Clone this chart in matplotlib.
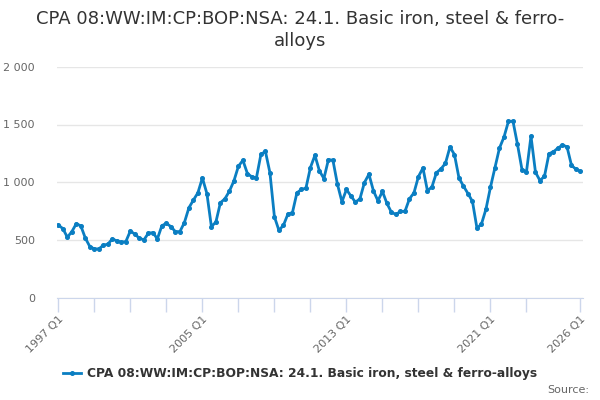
import numpy as np
import matplotlib
matplotlib.use("Agg")
import matplotlib.pyplot as plt
from matplotlib.ticker import FuncFormatter

# quarterly values, 1997 Q1 .. 2026 Q1
values = [629, 598, 523, 572, 641, 621, 515, 442, 422, 422, 454, 463,
          509, 491, 480, 486, 578, 549, 515, 500, 558, 563, 509, 623,
          644, 615, 572, 572, 650, 778, 845, 908, 1037, 902, 615, 655,
          822, 856, 922, 1011, 1138, 1190, 1075, 1046, 1037, 1241, 1267, 1083,
          701, 583, 626, 724, 736, 908, 937, 948, 1127, 1233, 1098, 1032,
          1196, 1190, 983, 830, 937, 880, 827, 856, 997, 1069, 925, 839,
          920, 816, 739, 721, 747, 747, 856, 908, 1049, 1123, 925, 960,
          1083, 1115, 1164, 1305, 1239, 1037, 966, 902, 833, 601, 638, 767,
          957, 1127, 1296, 1391, 1528, 1528, 1328, 1109, 1092, 1399, 1086, 1014,
          1052, 1247, 1264, 1296, 1322, 1307, 1146, 1112, 1095]
quarters = ['{} Q{}'.format(y, q) for y in range(1997, 2027) for q in range(1, 5)][:len(values)]
tick_quarters = ['1997 Q1', '1999 Q1', '2001 Q1', '2003 Q1', '2005 Q1', '2007 Q1',
                 '2009 Q1', '2011 Q1', '2013 Q1', '2015 Q1', '2017 Q1', '2019 Q1',
                 '2021 Q1', '2023 Q1', '2026 Q1']
label_quarters = ['1997 Q1', '2005 Q1', '2013 Q1', '2021 Q1', '2026 Q1']
series_name = 'CPA 08:WW:IM:CP:BOP:NSA: 24.1. Basic iron, steel & ferro-alloys'

blue = '#0a7ec2'
grey = '#666666'

fig = plt.figure(figsize=(6, 4), dpi=100)
ax = fig.add_axes([0.095, 0.256, 0.877, 0.577])

x = np.arange(len(values))
line, = ax.plot(x, values, color=blue, lw=2, marker='o', ms=2.6, zorder=3)

ax.set_xlim(-0.3, 116.6)
ax.set_ylim(0, 2000)
ax.set_yticks([0, 500, 1000, 1500, 2000])
ax.yaxis.set_major_formatter(FuncFormatter(lambda v, p: '{:,.0f}'.format(v).replace(',', ' ')))
ax.grid(axis='y', color='#e6e6e6', lw=1)
ax.set_axisbelow(True)

tpos = [quarters.index(q) for q in tick_quarters]
ax.set_xticks(tpos)
ax.set_xticklabels([q if q in label_quarters else '' for q in tick_quarters],
                   rotation=45, ha='right', rotation_mode='anchor')

for s in ['top', 'right', 'left']:
    ax.spines[s].set_visible(False)
ax.spines['bottom'].set_color('#ccd6eb')
ax.tick_params(axis='x', colors='#ccd6eb', length=10, width=1, labelcolor=grey,
               labelsize=8, pad=2)
ax.tick_params(axis='y', length=0, labelcolor=grey, labelsize=8, pad=16)

fig.text(0.5, 0.975, 'CPA 08:WW:IM:CP:BOP:NSA: 24.1. Basic iron, steel & ferro-\nalloys',
         ha='center', va='top', fontsize=13, color='#333333', linespacing=1.25)

fig.legend([line], [series_name], loc='center', bbox_to_anchor=(0.5, 0.066),
           frameon=False, handlelength=1.5, handletextpad=0.5,
           prop={'weight': 'bold', 'size': 8.8})
for t in fig.legends[0].get_texts():
    t.set_color('#333333')

fig.text(0.982, 0.025, 'Source:', ha='right', va='center', fontsize=8, color=grey)

fig.savefig('out.png', dpi=100)
